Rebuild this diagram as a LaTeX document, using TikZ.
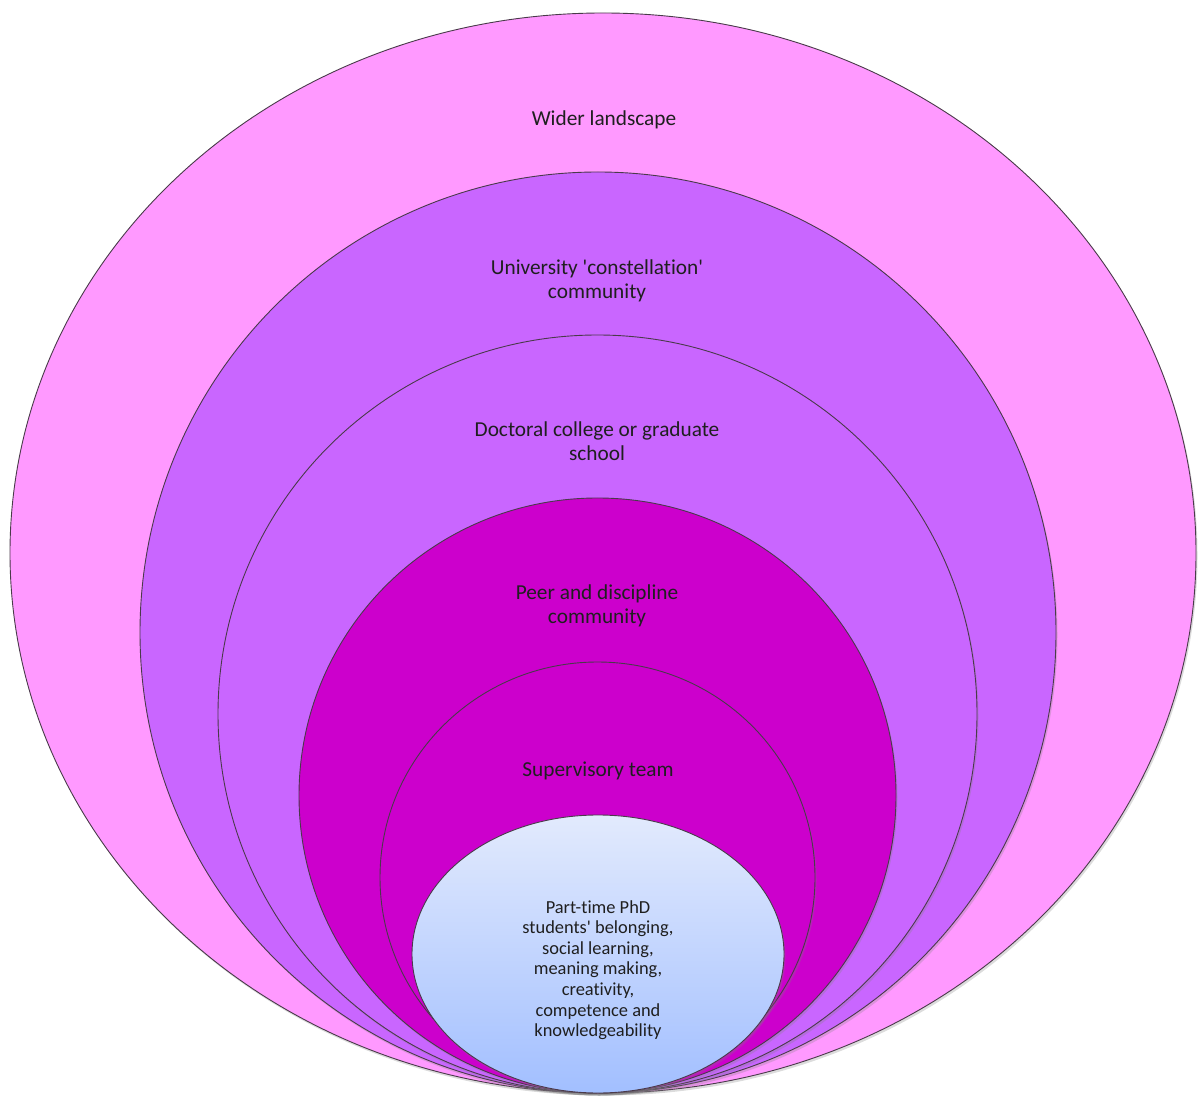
\documentclass[tikz,border=0pt]{standalone}
\usepackage{fontspec}
\setmainfont{Carlito}[Ligatures={NoCommon}]
\usetikzlibrary{shapes.geometric,shadows}
\definecolor{outerpink}{HTML}{FF99FF}
\definecolor{lilac}{HTML}{C966FF}
\definecolor{magentadeep}{HTML}{CC00CC}
\definecolor{innertop}{HTML}{E2EAFD}
\definecolor{innerbot}{HTML}{A2BFFF}
\definecolor{rimline}{HTML}{4A3A4A}
\tikzset{
  ring/.style={ellipse, draw=rimline, line width=0.9pt, inner sep=0pt,
    drop shadow={opacity=0.28, shadow xshift=1.5pt, shadow yshift=-2.5pt}},
  lbl/.style={align=center, text=black!88, font=\fontsize{21.3}{23.5}\selectfont},
  smalllbl/.style={align=center, text=black!88, font=\fontsize{18.4}{20.6}\selectfont}
}
\begin{document}
\begin{tikzpicture}[x=1pt,y=1pt]
\useasboundingbox (0,0) rectangle (1198,1096);
% image y -> 1096 - y
\node[ring, fill=outerpink, minimum width=1186pt, minimum height=1080pt] (wider) at (603,543) {};
\node[ring, fill=lilac, minimum width=916pt, minimum height=921pt] (univ) at (598,463.5) {};
\node[ring, fill=lilac, minimum width=759pt, minimum height=758pt] (doct) at (597.5,382) {};
\node[ring, fill=magentadeep, minimum width=597pt, minimum height=595pt] (peer) at (597.5,300.5) {};
\node[ring, fill=magentadeep, minimum width=435pt, minimum height=431pt] (superv) at (597.5,218.5) {};
\node[ring, top color=innertop, bottom color=innerbot, minimum width=372pt, minimum height=278pt] (core) at (598,142) {};
\node[lbl] (tw) at (604,976) {Wider landscape};
\node[lbl] (tu) at (597,815) {University \textquotesingle constellation\textquotesingle\\community};
\node[lbl] (td) at (597,655) {Doctoral college or graduate\\school};
\node[lbl] (tp) at (597,490) {Peer and discipline\\community};
\node[lbl] (ts) at (598,325) {Supervisory team};
\node[smalllbl] (tc) at (598,126) {Part-time PhD\\students\textquotesingle{} belonging,\\social learning,\\meaning making,\\creativity,\\competence and\\knowledgeability};
\end{tikzpicture}
\end{document}
